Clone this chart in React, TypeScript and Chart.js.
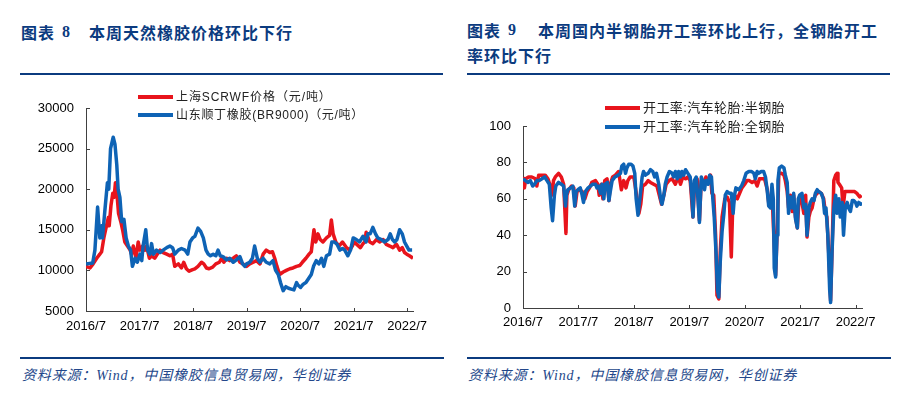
import React, { useEffect, useRef } from "react";
import { Chart, registerables } from "chart.js";
Chart.register(...registerables);

// ---- shared axis labels (months since 2016/7) ----
const yearTickMonths = [0, 12, 24, 36, 48, 60, 72];
const yearTickLabels = ["2016/7", "2017/7", "2018/7", "2019/7", "2020/7", "2021/7", "2022/7"];

// ---- Chart 8: rubber prices (yuan/ton) ----
const scrMonths = [0,0.9,1.6,2.4,3.1,3.5,4.0,4.6,5.0,5.2,5.6,6.0,6.3,6.6,7.0,7.3,7.8,8.2,8.7,9.3,9.9,10.2,10.6,11.2,11.7,12.1,12.7,13.2,13.6,14.2,14.7,15.4,16.0,16.6,17.3,18.1,18.8,19.4,19.9,20.7,21.4,21.9,22.5,23.1,23.9,24.4,25.1,25.9,26.4,27.0,27.6,28.4,29.1,29.9,30.4,30.9,31.5,32.2,33.0,33.7,34.5,35.2,36.0,36.7,37.5,38.2,39.0,39.7,40.4,41.2,41.8,42.3,42.8,43.4,44.2,44.9,45.7,46.4,47.2,47.9,48.5,49.3,50.0,50.5,51.1,51.5,52.0,52.5,53.1,53.9,54.6,55.0,55.4,56.0,56.7,57.5,58.4,59.1,59.7,60.1,60.7,61.5,62.1,62.5,62.8,63.6,64.3,65.1,65.8,66.6,67.3,68.1,68.8,69.6,70.3,70.9,71.4,71.9,72.5,73.3];
const scrPrices = [10500,10300,10800,11500,12000,12300,14000,15500,16500,15500,18000,19500,19000,20800,19000,17000,16000,15000,13500,13000,12500,12000,13000,11500,13500,12500,13000,12500,13000,11500,11800,11500,12000,12500,12200,12000,11800,12000,10500,10800,10300,11000,10200,9900,10100,10200,10500,11000,10800,10300,10200,10400,10800,11000,11500,11000,11500,11200,11500,11800,11000,10800,10500,10800,11000,11200,10800,12000,12500,12200,12300,11500,10500,9500,9800,10000,10200,10300,10500,10600,11000,11500,12000,12300,15000,13500,14500,13800,13500,14000,14300,16200,14500,13500,13000,13500,12800,12500,13000,13500,13200,12800,13300,13500,14700,13500,13300,13800,13500,13800,13200,13000,12800,13200,12500,12800,12200,12000,11800,11500];
const brMonths = [0,1.5,2.0,2.6,3.1,3.5,3.7,4.25,4.8,5.1,5.5,6.1,6.5,6.9,7.2,7.6,8.0,8.5,9.0,9.5,10.0,10.4,11.0,11.5,12.1,12.5,12.8,13.4,13.8,14.3,14.7,15.1,15.8,16.6,17.3,18.1,18.8,19.4,19.9,20.7,21.4,22.2,22.8,23.3,23.9,24.4,25.1,25.7,26.3,26.9,27.4,27.9,28.5,29.1,29.6,30.1,30.7,31.5,32.2,33.0,33.7,34.5,35.1,35.6,36.0,36.7,37.3,37.8,38.4,39.0,39.7,40.4,41.2,41.9,42.5,43.1,43.6,44.2,44.8,45.4,46.0,46.6,47.2,47.5,48.1,48.7,49.3,49.9,50.5,51.0,51.6,52.2,52.8,53.3,53.9,54.6,55.1,55.7,56.3,56.9,57.5,58.0,58.7,59.3,59.9,60.6,61.3,62.1,62.8,63.2,63.7,64.3,64.9,65.4,66.2,66.9,67.7,68.2,68.7,69.2,69.7,70.3,70.9,71.4,71.9,72.4,73.1];
const brPrices = [10800,10900,12500,17800,14000,15500,14000,17500,20800,20000,25000,26400,25500,23000,20000,19000,16000,16300,14000,13000,12500,10500,11500,11000,12000,11200,13000,15000,12500,12000,13300,12000,12500,12200,12500,12800,13000,12800,12000,12500,12700,12500,12000,13500,14000,14200,15200,14800,14000,12500,12000,11800,12000,11800,12500,11800,11700,11300,11500,11000,11300,11700,10800,10500,10800,11000,11500,13000,11500,11000,11500,11000,10800,11200,10000,9500,8500,7500,8000,7800,7700,7600,8500,8200,7900,8300,8500,9000,9500,10500,11200,10800,11500,10500,11800,12000,13500,13500,13200,12500,12700,12500,11800,12500,14000,13800,13500,14200,13500,14500,14500,15300,14500,14000,13800,13500,13800,14500,13800,13500,13800,15000,14500,13500,13000,12500,12500];

// ---- Chart 9: tyre operating rates (%) ----
const semiMonths = [0.0,0.3,0.6,1.2,1.9,2.7,3.0,3.4,4.1,4.8,5.4,5.8,6.3,6.6,7.0,7.7,8.3,8.8,9.3,9.5,9.9,10.5,11.0,11.3,11.7,12.2,12.8,13.4,13.9,14.4,14.9,15.7,16.2,16.5,17.0,17.3,17.7,18.2,18.6,18.9,19.4,20.0,20.7,21.3,21.8,22.3,22.7,23.2,24.0,24.7,25.1,25.5,25.9,26.5,27.1,27.6,28.3,29.0,29.5,30.0,30.5,31.0,31.6,32.3,33.0,33.6,34.1,34.6,35.2,35.7,36.2,36.8,37.2,37.7,38.2,38.6,39.1,39.6,40.2,40.6,40.9,41.3,41.7,42.0,42.4,42.7,43.1,43.7,44.2,44.7,45.1,45.4,45.8,46.4,46.9,47.4,48.0,48.5,49.0,49.6,50.2,50.7,51.2,51.8,52.3,52.9,53.2,53.6,53.9,54.3,54.7,55.0,55.4,56.0,56.5,56.8,57.2,57.5,57.9,58.3,58.6,59.0,59.4,59.7,60.1,60.4,60.8,61.2,61.5,61.9,62.2,62.6,63.0,63.3,63.7,64.0,64.6,65.1,65.5,65.8,66.2,66.6,66.9,67.3,67.7,68.0,68.2,68.5,69.0,69.3,69.7,70.2,70.7,71.3,71.8,72.3,72.9,73.3];
const semiRates = [72,66,71,72,72,71,67,73,73,73,71,68,62,70,72,74,72,68,41,62,65,67,66,56,64,65,64,60,64,66,69,70,68,62,68,60,70,71,59,68,72,73,75,65,70,66,70,72,72,60,52,57,67,68,70,69,68,67,62,57,62,68,70,71,68,72,68,72,71,72,70,50,70,71,48,70,68,72,70,73,63,62,40,7,5,30,50,60,61,58,28,55,62,60,63,66,68,70,70,69,70,67,71,71,71,65,58,57,64,40,18,40,74,74,73,70,64,55,62,53,62,50,44,57,60,58,52,62,39,50,53,55,60,62,63,64,63,60,52,50,30,4,30,70,73,74,69,68,66,55,64,64,64,64,64,63,61,62];
const allMonths = [0.0,0.5,1.1,1.6,2.1,2.5,3.0,3.5,4.1,4.7,5.2,5.7,6.1,6.4,6.8,7.1,7.7,8.3,8.8,9.2,9.4,9.7,10.3,10.8,11.2,11.5,11.9,12.4,12.8,13.1,13.5,14.1,14.6,15.1,15.7,16.0,16.4,16.8,17.1,17.5,17.8,18.3,18.6,18.9,19.3,19.9,20.6,21.1,21.4,21.8,22.2,22.5,22.9,23.4,23.8,24.2,24.5,24.9,25.3,25.8,26.1,26.5,27.1,27.6,28.1,28.5,28.9,29.4,29.8,30.1,30.5,30.8,31.2,31.7,32.3,32.6,33.0,33.4,33.7,34.1,34.4,34.8,35.2,35.7,36.2,36.6,36.8,37.1,37.5,37.8,38.2,38.6,38.9,39.3,39.6,40.1,40.4,40.8,41.1,41.4,41.8,42.1,42.4,42.7,43.1,43.5,43.8,44.2,44.7,45.1,45.5,45.8,46.1,46.7,47.3,47.8,48.3,48.9,49.5,50.0,50.3,50.7,51.0,51.6,52.1,52.5,52.9,53.2,53.6,53.9,54.2,54.4,54.7,55.0,55.2,55.5,56.0,56.5,56.8,57.2,57.5,57.9,58.3,58.6,59.0,59.4,59.6,59.9,60.4,60.8,61.2,61.5,61.9,62.2,62.6,63.0,63.3,63.7,64.0,64.6,65.0,65.3,65.6,66.0,66.4,66.6,66.9,67.3,67.7,68.0,68.4,68.7,69.1,69.4,69.8,70.2,70.5,70.9,71.3,71.6,72.0,72.3,72.7,73.1,73.4];
const allRates = [71,70,69,70,67,68,70,70,71,72,70,68,55,48,62,67,69,68,67,56,62,65,66,67,56,64,65,66,62,58,64,66,67,68,68,66,67,63,68,60,68,69,59,64,70,72,73,74,78,79,74,77,79,79,78,74,60,51,60,72,75,73,74,76,75,72,74,68,60,57,62,68,72,75,74,72,75,71,75,72,75,73,76,74,72,60,50,70,72,63,47,72,70,65,70,68,73,72,60,50,30,10,6,25,42,52,62,64,63,63,52,62,66,65,67,70,74,75,75,74,71,75,74,75,75,72,64,56,55,68,60,22,17,40,70,77,78,77,73,69,52,61,55,63,49,44,60,62,63,55,57,40,55,58,60,59,63,65,64,63,60,52,55,40,10,3,30,55,62,52,60,50,58,40,56,58,55,53,59,59,58,56,58,57,58];

const NAVY = "#0b3b7f";
const RED = "#E8141C";
const BLUE = "#0E63B5";
const AXIS = "#404040";
const TICK_FONT = { family: 'Arial, "Liberation Sans", sans-serif', size: 13 };

const innerTicks = {
  id: "innerTicks",
  afterDraw(chart: any) {
    const { ctx, chartArea, scales } = chart;
    const x = scales.x;
    const y = scales.y;
    ctx.save();
    ctx.strokeStyle = AXIS;
    ctx.lineWidth = 1;
    ctx.beginPath();
    x.ticks.forEach((t: any) => {
      const px = Math.round(x.getPixelForValue(t.value)) + 0.5;
      ctx.moveTo(px, chartArea.bottom + 1);
      ctx.lineTo(px, chartArea.bottom - 3);
    });
    y.ticks.forEach((t: any) => {
      const py = Math.round(y.getPixelForValue(t.value)) + 0.5;
      ctx.moveTo(chartArea.left, py);
      ctx.lineTo(chartArea.left + 4, py);
    });
    ctx.stroke();
    ctx.restore();
  },
};

type Series = { months: number[]; values: number[]; color: string; order: number; label: string };

type LineChartProps = {
  left: number; top: number; width: number; height: number;
  series: Series[];
  yMin: number; yMax: number; yStep: number; xMax: number;
  yAxisWidth: number; xAxisHeight: number; padTop: number; padRight: number; xLabelPad: number;
};

function LineChart(p: LineChartProps) {
  const ref = useRef<HTMLCanvasElement>(null);
  useEffect(() => {
    const chart = new Chart(ref.current as HTMLCanvasElement, {
      type: "line",
      data: {
        datasets: p.series.map((s) => ({
          label: s.label,
          data: s.months.map((m, i) => ({ x: m, y: s.values[i] })),
          borderColor: s.color,
          backgroundColor: s.color,
          borderWidth: 3.5,
          pointRadius: 0,
          tension: 0,
          order: s.order,
          borderJoinStyle: "round",
          borderCapStyle: "butt",
        })),
      },
      options: {
        responsive: false,
        animation: false,
        devicePixelRatio: 1,
        layout: { padding: { top: p.padTop, right: p.padRight, left: 0, bottom: 0 } },
        plugins: { legend: { display: false }, tooltip: { enabled: false } },
        scales: {
          x: {
            type: "linear",
            min: 0,
            max: p.xMax,
            afterFit: (s: any) => { s.height = p.xAxisHeight; },
            afterBuildTicks: (s: any) => { s.ticks = yearTickMonths.map((v) => ({ value: v })); },
            ticks: {
              autoSkip: false,
              maxRotation: 0,
              padding: p.xLabelPad,
              color: "#000",
              font: TICK_FONT,
              callback: (v: any) => {
                const i = yearTickMonths.indexOf(Number(v));
                return i >= 0 ? yearTickLabels[i] : "";
              },
            },
            grid: { display: false, drawTicks: false },
            border: { display: true, color: AXIS, width: 1 },
          },
          y: {
            type: "linear",
            min: p.yMin,
            max: p.yMax,
            afterFit: (s: any) => { s.width = p.yAxisWidth; },
            ticks: {
              stepSize: p.yStep,
              padding: 12,
              color: "#000",
              font: TICK_FONT,
              callback: (v: any) => String(v),
            },
            grid: { display: false, drawTicks: false },
            border: { display: true, color: AXIS, width: 1 },
          },
        },
      } as any,
      plugins: [innerTicks],
    });
    return () => chart.destroy();
  }, []);
  return (
    <canvas
      ref={ref}
      width={p.width}
      height={p.height}
      style={{ position: "absolute", left: p.left, top: p.top, width: p.width, height: p.height }}
    />
  );
}

function LegendRow(props: { left: number; cy: number; color: string; text: string; size: number; spacing: number }) {
  return (
    <div
      style={{
        position: "absolute", left: props.left, top: props.cy - 10, height: 20,
        display: "flex", alignItems: "center", whiteSpace: "nowrap",
      }}
    >
      <div style={{ width: 35, height: 4, background: props.color, marginRight: 3 }} />
      <span style={{ fontSize: props.size, letterSpacing: props.spacing, color: "#222", fontFamily: '"Liberation Sans", "Noto Sans CJK SC", sans-serif', lineHeight: "20px" }}>
        {props.text}
      </span>
    </div>
  );
}

const titleCJK: React.CSSProperties = {
  position: "absolute", fontFamily: '"Noto Sans CJK SC", sans-serif', fontWeight: 700,
  fontSize: 16, lineHeight: "16px", letterSpacing: 1, color: NAVY, whiteSpace: "nowrap",
};
const titleNum: React.CSSProperties = {
  position: "absolute", fontFamily: '"Liberation Serif", serif', fontWeight: 700,
  fontSize: 16, lineHeight: "16px", color: NAVY,
};
const footStyle: React.CSSProperties = {
  position: "absolute", fontFamily: '"Liberation Serif", "Noto Sans CJK SC", serif', fontStyle: "italic",
  fontSize: 14, lineHeight: "16px", color: "#23478a", whiteSpace: "nowrap", letterSpacing: 0.85,
};
const rule = (left: number, top: number, width: number): React.CSSProperties => ({
  position: "absolute", left, top, width, height: 2, background: NAVY,
});

export default function App() {
  return (
    <div style={{ position: "absolute", left: 0, top: 0, width: 913, height: 393, background: "#fff", overflow: "hidden" }}>
      {/* Left title */}
      <div style={{ ...titleCJK, left: 21, top: 24 }}>图表</div>
      <div style={{ ...titleNum, left: 62, top: 24 }}>8</div>
      <div style={{ ...titleCJK, left: 89, top: 24 }}>本周天然橡胶价格环比下行</div>
      <div style={rule(20, 73, 423)} />

      {/* Right title */}
      <div style={{ ...titleCJK, left: 467, top: 22 }}>图表</div>
      <div style={{ ...titleNum, left: 508, top: 22 }}>9</div>
      <div style={{ ...titleCJK, left: 538, top: 22 }}>本周国内半钢胎开工率环比上行，全钢胎开工</div>
      <div style={{ ...titleCJK, left: 467, top: 47 }}>率环比下行</div>
      <div style={rule(467, 73, 423)} />

      {/* Left chart */}
      <LineChart
        left={20} top={85} width={420} height={250}
        series={[
          { label: "上海SCRWF价格（元/吨）", months: scrMonths, values: scrPrices, color: RED, order: 1 },
          { label: "山东顺丁橡胶(BR9000)（元/吨）", months: brMonths, values: brPrices, color: BLUE, order: 0 },
        ]}
        yMin={5000} yMax={30000} yStep={5000} xMax={73.3}
        yAxisWidth={66} xAxisHeight={24} padTop={23} padRight={27} xLabelPad={8}
      />
      <LegendRow left={138} cy={97} color={RED} text="上海SCRWF价格（元/吨）" size={12} spacing={0.9} />
      <LegendRow left={138} cy={115} color={BLUE} text="山东顺丁橡胶(BR9000)（元/吨）" size={12} spacing={0.7} />

      {/* Right chart */}
      <LineChart
        left={467} top={85} width={420} height={250}
        series={[
          { label: "开工率:汽车轮胎:半钢胎", months: semiMonths, values: semiRates, color: RED, order: 1 },
          { label: "开工率:汽车轮胎:全钢胎", months: allMonths, values: allRates, color: BLUE, order: 0 },
        ]}
        yMin={0} yMax={100} yStep={20} xMax={73.4}
        yAxisWidth={56} xAxisHeight={27} padTop={41} padRight={25} xLabelPad={7}
      />
      <LegendRow left={605} cy={108} color={RED} text="开工率:汽车轮胎:半钢胎" size={13} spacing={0.4} />
      <LegendRow left={605} cy={127} color={BLUE} text="开工率:汽车轮胎:全钢胎" size={13} spacing={0.4} />

      {/* Footers */}
      <div style={rule(20, 357, 424)} />
      <div style={rule(467, 357, 424)} />
      <div style={{ ...footStyle, left: 22, top: 368 }}>资料来源：Wind，中国橡胶信息贸易网，华创证券</div>
      <div style={{ ...footStyle, left: 468, top: 368 }}>资料来源：Wind，中国橡胶信息贸易网，华创证券</div>
    </div>
  );
}
